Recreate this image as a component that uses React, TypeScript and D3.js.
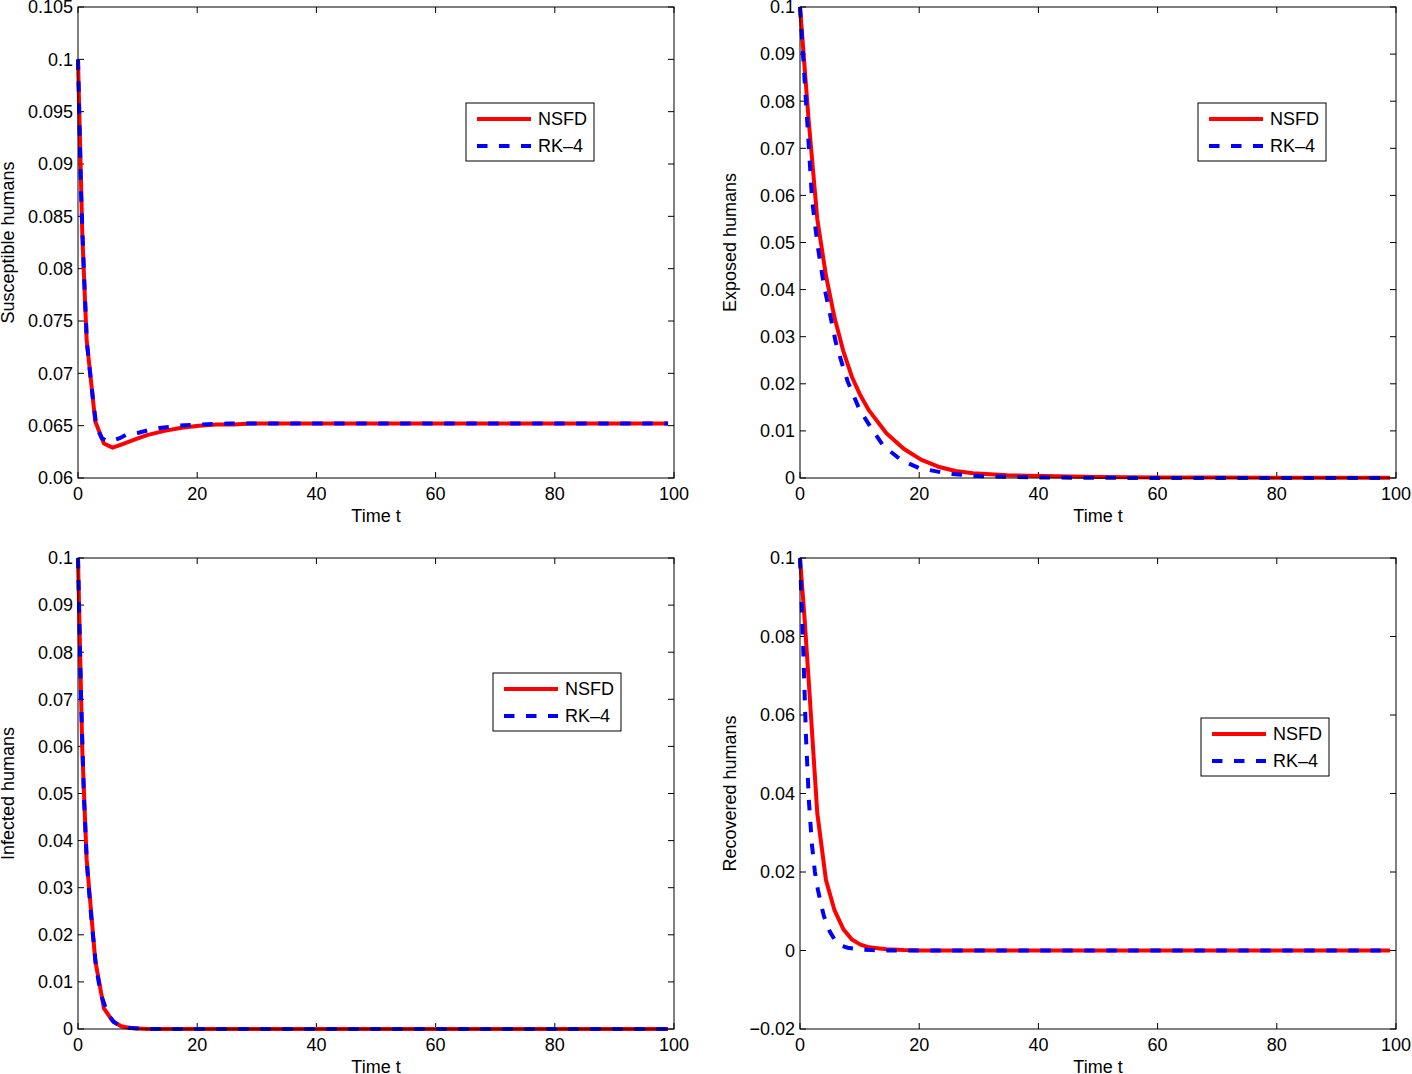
import React, { useEffect, useRef } from 'react';
import * as d3 from 'd3';

// time grids (NSFD coarse step, RK-4 finer at start)
const timeNsfd = [0, 0.725, 1.45, 2.9, 4.35, 5.8, 7.25, 8.7, 10.15, 11.6, 14.5, 17.4, 20.3, 23.2, 26.1, 29, 34.8, 40.6, 50, 60, 70, 80, 90, 99];
const timeRk4 = [0, 0.5, 1, 1.5, 2, 2.5, 3, 3.5, 4, 5, 6, 7, 8, 10, 12, 14, 17, 20, 25, 30, 40, 60, 80, 99];

const susceptibleNsfd = [0.1, 0.0832, 0.0732, 0.0654, 0.0633, 0.0629, 0.0632, 0.0635, 0.0638, 0.0641, 0.0645, 0.0648, 0.065, 0.0651, 0.0651, 0.0652, 0.0652, 0.0652, 0.0652, 0.0652, 0.0652, 0.0652, 0.0652, 0.0652];
const susceptibleRk4 = [0.1, 0.0875, 0.0795, 0.0729, 0.0702, 0.0676, 0.0653, 0.0644, 0.0638, 0.0635, 0.0636, 0.0638, 0.0641, 0.0643, 0.0646, 0.0648, 0.065, 0.0651, 0.0652, 0.0652, 0.0652, 0.0652, 0.0652, 0.0652];

const exposedNsfd = [0.1, 0.088, 0.076, 0.055, 0.043, 0.034, 0.027, 0.0215, 0.0175, 0.0143, 0.0095, 0.0062, 0.0039, 0.0024, 0.0015, 0.001, 0.0006, 0.0004, 0.0002, 0.0001, 0.0001, 0.00005, 0.00005, 0.00005];
const exposedRk4 = [0.1, 0.09, 0.08, 0.07, 0.0595, 0.054, 0.049, 0.045, 0.041, 0.035, 0.0288, 0.0245, 0.0205, 0.0145, 0.0105, 0.0068, 0.0038, 0.0021, 0.0009, 0.0004, 0.0001, 0, 0, 0];

const infectedNsfd = [0.1, 0.059, 0.036, 0.0145, 0.0044, 0.0017, 0.0006, 0.0002, 0.0001, 0, 0, 0, 0, 0, 0, 0, 0, 0, 0, 0, 0, 0, 0, 0];
const infectedRk4 = [0.1, 0.071, 0.049, 0.035, 0.027, 0.02, 0.0135, 0.0098, 0.0068, 0.0032, 0.0015, 0.0007, 0.0003, 0.0001, 0, 0, 0, 0, 0, 0, 0, 0, 0, 0];

const recoveredNsfd = [0.1, 0.0855, 0.069, 0.035, 0.018, 0.0102, 0.0055, 0.0028, 0.0015, 0.0008, 0.0003, 0.0001, 0, 0, 0, 0, 0, 0, 0, 0, 0, 0, 0, 0];
const recoveredRk4 = [0.1, 0.079, 0.0545, 0.038, 0.027, 0.02, 0.0155, 0.012, 0.0088, 0.0048, 0.0023, 0.0012, 0.0007, 0.0003, 0.0001, 0, 0, 0, 0, 0, 0, 0, 0, 0];

const xTicks = [0, 20, 40, 60, 80, 100];
const yTicksSusceptible = [0.06, 0.065, 0.07, 0.075, 0.08, 0.085, 0.09, 0.095, 0.1, 0.105];
const yTicksTenth = [0, 0.01, 0.02, 0.03, 0.04, 0.05, 0.06, 0.07, 0.08, 0.09, 0.1];
const yTicksRecovered = [-0.02, 0, 0.02, 0.04, 0.06, 0.08, 0.1];

const seriesNames = ['NSFD', 'RK\u20134'];

const fmt = (v: number) => {
    const s = String(+v.toFixed(3));
    return v < 0 ? '\u2212' + s.slice(1) : s;
};

const FONT = '"Liberation Sans", Arial, Helvetica, sans-serif';

const App: React.FC = () => {
    const svgRef = useRef<SVGSVGElement>(null);

    useEffect(() => {
        if (!svgRef.current) return;
        const svg = d3.select(svgRef.current);
        svg.selectAll('*').remove();

        const panels = [
            { left: 78, top: 7, label: 'Susceptible humans', yDomain: [0.06, 0.105], yTicks: yTicksSusceptible, nsfd: susceptibleNsfd, rk4: susceptibleRk4, legend: [388, 96] },
            { left: 800, top: 7, label: 'Exposed humans', yDomain: [0, 0.1], yTicks: yTicksTenth, nsfd: exposedNsfd, rk4: exposedRk4, legend: [398, 96] },
            { left: 78, top: 558, label: 'Infected humans', yDomain: [0, 0.1], yTicks: yTicksTenth, nsfd: infectedNsfd, rk4: infectedRk4, legend: [415, 115] },
            { left: 800, top: 558, label: 'Recovered humans', yDomain: [-0.02, 0.1], yTicks: yTicksRecovered, nsfd: recoveredNsfd, rk4: recoveredRk4, legend: [401, 160] },
        ];
        const w = 596;
        const h = 471;
        const tick = 6;

        panels.forEach(p => {
            const g = svg.append('g').attr('transform', `translate(${p.left},${p.top})`);
            const x = d3.scaleLinear().domain([0, 100]).range([0, w]);
            const y = d3.scaleLinear().domain(p.yDomain).range([h, 0]);

            g.append('rect').attr('width', w).attr('height', h).attr('fill', '#fff');

            // x ticks, bottom and top, pointing inward
            xTicks.forEach(t => {
                g.append('line').attr('x1', x(t)).attr('x2', x(t)).attr('y1', h).attr('y2', h - tick).attr('stroke', '#000');
                g.append('line').attr('x1', x(t)).attr('x2', x(t)).attr('y1', 0).attr('y2', tick).attr('stroke', '#000');
                g.append('text').attr('x', x(t)).attr('y', h + 22).attr('text-anchor', 'middle')
                    .style('font-family', FONT).style('font-size', '18px').text(String(t));
            });
            p.yTicks.forEach(t => {
                g.append('line').attr('x1', 0).attr('x2', tick).attr('y1', y(t)).attr('y2', y(t)).attr('stroke', '#000');
                g.append('line').attr('x1', w).attr('x2', w - tick).attr('y1', y(t)).attr('y2', y(t)).attr('stroke', '#000');
                g.append('text').attr('x', -5).attr('y', y(t)).attr('dy', '0.35em').attr('text-anchor', 'end')
                    .style('font-family', FONT).style('font-size', '18px').text(fmt(t));
            });

            g.append('text').attr('x', w / 2).attr('y', h + 44).attr('text-anchor', 'middle')
                .style('font-family', FONT).style('font-size', '18px').text('Time t');
            g.append('text').attr('transform', `translate(${p.left === 78 ? -64 : -64},${h / 2}) rotate(-90)`)
                .attr('text-anchor', 'middle')
                .style('font-family', FONT).style('font-size', '18px').text(p.label);

            const lineN = d3.line<number>().x((_, i) => x(timeNsfd[i])).y(d => y(d));
            const lineR = d3.line<number>().x((_, i) => x(timeRk4[i])).y(d => y(d));

            g.append('path').datum(p.nsfd).attr('d', lineN)
                .attr('fill', 'none').attr('stroke', '#ff0000').attr('stroke-width', 4).attr('stroke-linejoin', 'round');
            g.append('path').datum(p.rk4).attr('d', lineR)
                .attr('fill', 'none').attr('stroke', '#0000ff').attr('stroke-width', 4).attr('stroke-dasharray', '10.5 11.5');

            g.append('rect').attr('width', w).attr('height', h).attr('fill', 'none').attr('stroke', '#000').attr('stroke-width', 1);

            // legend
            const [lx, ly] = p.legend;
            const lg = g.append('g').attr('transform', `translate(${lx},${ly})`);
            lg.append('rect').attr('width', 128).attr('height', 58).attr('fill', '#fff').attr('stroke', '#000');
            seriesNames.forEach((name, i) => {
                const yy = 16 + i * 27;
                lg.append('line').attr('x1', 11).attr('x2', 65).attr('y1', yy).attr('y2', yy)
                    .attr('stroke', i === 0 ? '#ff0000' : '#0000ff').attr('stroke-width', 4)
                    .attr('stroke-dasharray', i === 0 ? null : '10.5 11.5');
                lg.append('text').attr('x', 72).attr('y', yy).attr('dy', '0.35em')
                    .style('font-family', FONT).style('font-size', '18px').text(name);
            });
        });
    }, []);

    return (
        <svg ref={svgRef} width={1412} height={1074}
            style={{ position: 'absolute', left: 0, top: 0, background: '#fff' }} />
    );
};

export default App;
